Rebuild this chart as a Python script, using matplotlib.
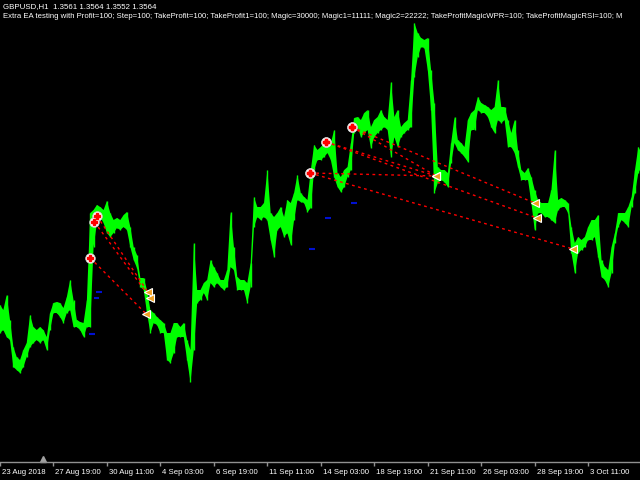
import numpy as np
import matplotlib
matplotlib.use('Agg')
import matplotlib.pyplot as plt
import matplotlib.transforms as mtransforms

# --- GBPUSD H1, one sample every 4 bars (high / low of that stretch) ---
step = 4
high = [1.3254,1.3244,1.3274,1.3224,1.3170,1.3150,1.3144,1.3164,1.3178,1.3234,
        1.3210,1.3204,1.3210,1.3204,1.3190,1.3238,1.3258,1.3260,1.3258,1.3248,
        1.3270,1.3304,1.3264,1.3224,1.3220,1.3218,1.3264,1.3438,1.3444,1.3454,
        1.3450,1.3444,1.3462,1.3438,1.3424,1.3428,1.3424,1.3434,1.3440,1.3410,
        1.3370,1.3354,1.3308,1.3308,1.3284,1.3244,1.3238,1.3230,1.3224,1.3218,
        1.3198,1.3198,1.3218,1.3218,1.3210,1.3218,1.3184,1.3164,1.3378,1.3284,
        1.3284,1.3298,1.3304,1.3344,1.3330,1.3318,1.3304,1.3304,1.3324,1.3440,
        1.3370,1.3310,1.3304,1.3304,1.3298,1.3338,1.3470,1.3450,1.3450,1.3458,
        1.3524,1.3438,1.3430,1.3438,1.3450,1.3430,1.3464,1.3458,1.3478,1.3514,
        1.3478,1.3470,1.3464,1.3524,1.3574,1.3564,1.3570,1.3578,1.3588,1.3578,
        1.3604,1.3518,1.3510,1.3524,1.3530,1.3578,1.3628,1.3630,1.3624,1.3638,
        1.3644,1.3610,1.3624,1.3630,1.3644,1.3630,1.3624,1.3700,1.3630,1.3644,
        1.3610,1.3618,1.3624,1.3704,1.3818,1.3798,1.3788,1.3784,1.3788,1.3724,
        1.3658,1.3530,1.3524,1.3524,1.3518,1.3578,1.3630,1.3584,1.3578,1.3570,
        1.3624,1.3638,1.3644,1.3670,1.3658,1.3654,1.3650,1.3644,1.3650,1.3704,
        1.3650,1.3650,1.3624,1.3598,1.3624,1.3564,1.3524,1.3518,1.3528,1.3510,
        1.3484,1.3464,1.3458,1.3458,1.3458,1.3484,1.3564,1.3464,1.3468,1.3464,
        1.3458,1.3410,1.3378,1.3390,1.3384,1.3390,1.3410,1.3424,1.3424,1.3434,
        1.3344,1.3330,1.3324,1.3370,1.3398,1.3438,1.3438,1.3438,1.3450,1.3470,
        1.3524,1.3570,1.3558]
low = [1.3198,1.3204,1.3190,1.3184,1.3130,1.3124,1.3118,1.3130,1.3150,1.3170,
       1.3178,1.3184,1.3178,1.3184,1.3164,1.3204,1.3238,1.3238,1.3230,1.3218,
       1.3238,1.3244,1.3210,1.3210,1.3204,1.3190,1.3210,1.3210,1.3370,1.3418,
       1.3430,1.3418,1.3398,1.3390,1.3398,1.3408,1.3404,1.3410,1.3404,1.3370,
       1.3344,1.3328,1.3290,1.3284,1.3238,1.3198,1.3218,1.3214,1.3198,1.3198,
       1.3144,1.3138,1.3158,1.3190,1.3190,1.3190,1.3144,1.3100,1.3164,1.3258,
       1.3264,1.3278,1.3264,1.3298,1.3290,1.3298,1.3290,1.3284,1.3290,1.3330,
       1.3324,1.3284,1.3284,1.3284,1.3258,1.3290,1.3410,1.3430,1.3424,1.3430,
       1.3424,1.3384,1.3350,1.3404,1.3410,1.3390,1.3398,1.3374,1.3424,1.3464,
       1.3460,1.3458,1.3440,1.3448,1.3524,1.3544,1.3544,1.3550,1.3558,1.3544,
       1.3510,1.3490,1.3480,1.3490,1.3510,1.3524,1.3598,1.3610,1.3590,1.3598,
       1.3604,1.3568,1.3590,1.3598,1.3604,1.3610,1.3604,1.3550,1.3590,1.3570,
       1.3590,1.3598,1.3604,1.3610,1.3710,1.3750,1.3770,1.3768,1.3724,1.3644,
       1.3478,1.3498,1.3504,1.3500,1.3490,1.3538,1.3578,1.3564,1.3558,1.3550,
       1.3540,1.3604,1.3604,1.3644,1.3638,1.3638,1.3630,1.3610,1.3598,1.3624,
       1.3618,1.3624,1.3570,1.3570,1.3558,1.3530,1.3504,1.3504,1.3504,1.3458,
       1.3404,1.3438,1.3438,1.3430,1.3430,1.3424,1.3418,1.3444,1.3450,1.3450,
       1.3438,1.3358,1.3318,1.3358,1.3364,1.3370,1.3384,1.3384,1.3390,1.3350,
       1.3310,1.3304,1.3290,1.3318,1.3378,1.3410,1.3424,1.3418,1.3410,1.3450,
       1.3478,1.3518,1.3530]

# --- trades: open bar/price -> close bar/price, take profit level ---
open_bar    = [116, 113, 108, 371, 371, 390, 421, 390, 421]
open_price  = [1.3432, 1.3420, 1.3348, 1.3518, 1.3518, 1.3580, 1.3610, 1.3580, 1.3610]
close_bar   = [177, 180, 175, 522, 686, 643, 640, 522, 522]
close_price = [1.3280, 1.3268, 1.3236, 1.3512, 1.3366, 1.3428, 1.3458, 1.3512, 1.3512]
tp_bar   = [116, 113, 108, 371, 390, 421]
tp_price = [1.3280, 1.3268, 1.3196, 1.3366, 1.3428, 1.3458]

# --- time axis labels, every 64 bars ---
tick_labels = ["23 Aug 2018", "27 Aug 19:00", "30 Aug 11:00", "4 Sep 03:00", "6 Sep 19:00",
               "11 Sep 11:00", "14 Sep 03:00", "18 Sep 19:00", "21 Sep 11:00",
               "26 Sep 03:00", "28 Sep 19:00", "3 Oct 11:00"]

font = 'Liberation Sans'
fig = plt.figure(figsize=(6.4, 4.8), dpi=100, facecolor='black')
ax = fig.add_axes([0, 18/480, 1, 462/480])
ax.set_facecolor('black')

bars = np.arange(len(high)) * step
ax.fill_between(bars, low, high, color='#00ff00', linewidth=0)
ax.vlines(bars, low, high, color='#00ff00', linewidth=1)

# trade lines
for ob, op, cb, cp in zip(open_bar, open_price, close_bar, close_price):
    ax.plot([ob, cb], [op, cp], color='#ff0000', lw=1, linestyle=(0, (2, 2.5)))

# take profit dashes
for b, p in zip(tp_bar, tp_price):
    ax.hlines(p, b - 1, b + 6, color='#0010d0', lw=1.5)

# close markers
ax.plot(close_bar, close_price, linestyle='none', marker='<', markersize=6,
        markerfacecolor='#f0a020', markeredgecolor='white', markeredgewidth=0.8)
# open markers
ax.plot(open_bar, open_price, linestyle='none', marker='o', markersize=7,
        markerfacecolor='white', markeredgecolor='#c0c0c0', markeredgewidth=0.5)
ax.plot(open_bar, open_price, linestyle='none', marker='P', markersize=4.5,
        markerfacecolor='#ff0000', markeredgecolor='#ff0000')

ax.set_xlim(0, 766)
ax.set_ylim(1.2940, 1.3864)

for s in ['top', 'left', 'right']:
    ax.spines[s].set_visible(False)
ax.spines['bottom'].set_color('#909090')
ax.spines['bottom'].set_linewidth(1)
ax.set_yticks([])
ax.set_xticks(np.arange(len(tick_labels)) * 64)
ax.set_xticklabels(tick_labels, ha='left', fontsize=5.6, color='white', family=font)
ax.tick_params(axis='x', direction='out', length=3, width=1, color='#909090', pad=2)
offset = mtransforms.ScaledTranslation(2/100, 0, fig.dpi_scale_trans)
for lab in ax.get_xticklabels():
    lab.set_transform(lab.get_transform() + offset)

# chart shift marker on the time axis
trans = mtransforms.blended_transform_factory(ax.transData, ax.transAxes)
ax.plot([51], [0.006], marker='^', markersize=5, color='#a0a0a0', transform=trans, clip_on=False)

# header
fig.text(3/640, 1 - 7/480, "GBPUSD,H1  1.3561 1.3564 1.3552 1.3564", color='white',
         fontsize=5.65, family=font, va='center', ha='left')
fig.text(3/640, 1 - 17/480,
         "Extra EA testing with Profit=100; Step=100; TakeProfit=100; TakeProfit1=100; "
         "Magic=30000; Magic1=11111; Magic2=22222; TakeProfitMagicWPR=100; "
         "TakeProfitMagicRSI=100; M",
         color='white', fontsize=5.6, family=font, va='center', ha='left')

fig.savefig('out.png', dpi=100, facecolor='black')
